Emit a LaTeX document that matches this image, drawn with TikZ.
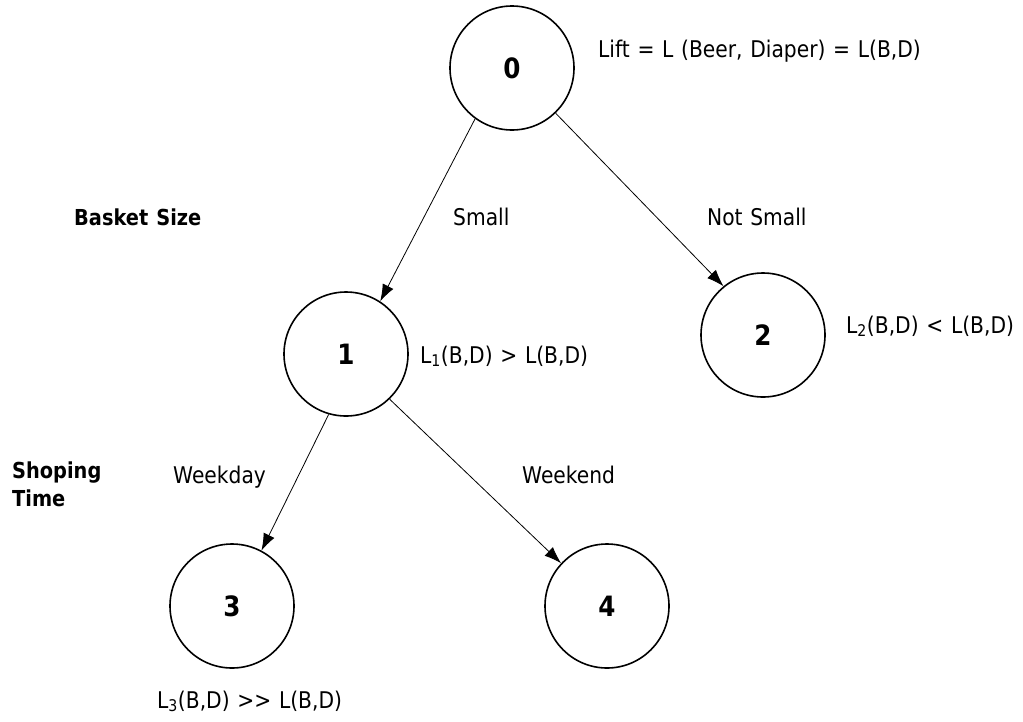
\documentclass[tikz,border=0pt]{standalone}
\usepackage{fontspec}
\setmainfont{DejaVu Sans}[FakeStretch=0.88, WordSpace=1.2]
\usetikzlibrary{positioning}
\usetikzlibrary{arrows.meta}

\tikzset{
  treenode/.style={draw, circle, line width=1.6pt, minimum size=124pt, inner sep=0pt,
    font=\bfseries\fontsize{28}{32}\selectfont},
  lbl/.style={anchor=base west, inner sep=0pt, font=\fontsize{23}{27}\selectfont},
  hdr/.style={lbl, font=\bfseries\fontsize{22}{28}\selectfont, align=left},
  branch/.style={-{Latex[length=17pt,width=12pt]}, line width=0.8pt}
}

\begin{document}
\begin{tikzpicture}[x=1pt,y=-1pt]
  \useasboundingbox (0,0) rectangle (1023,721);
  % the tree
  \node[treenode] (n0) at (512,68) {0};
  \node[treenode] (n1) at (346,354) {1};
  \node[treenode] (n2) at (763,335) {2};
  \node[treenode] (n3) at (232,606) {3};
  \node[treenode] (n4) at (607,606) {4};
  \draw[branch] (n0.234) -- (n1.57);
  \draw[branch] (n0.314) -- (n2.129);
  \draw[branch] (n1.254) -- (n3.62);
  \draw[branch] (n1.314) -- (n4.137);
  % lifts
  \node[lbl] (lift) at (598,57) {Lift = L (Beer, Diaper) = L(B,D)};
  \node[lbl] (lift1) at (420,363) {L\textsubscript{1}(B,D) > L(B,D)};
  \node[lbl] (lift2) at (846,333) {L\textsubscript{2}(B,D) < L(B,D)};
  \node[lbl] (lift3) at (157,708) {L\textsubscript{3}(B,D) >{}> L(B,D)};
  % splits
  \node[hdr] (basket) at (74,225) {Basket Size};
  \node[lbl] (small) at (453,225) {Small};
  \node[lbl] (notsmall) at (707,225) {Not Small};
  \node[hdr, anchor=north west] (shop) at (12,462) {Shoping\\Time};
  \node[lbl] (weekday) at (173,483) {Weekday};
  \node[lbl] (weekend) at (522,483) {Weekend};
\end{tikzpicture}
\end{document}
